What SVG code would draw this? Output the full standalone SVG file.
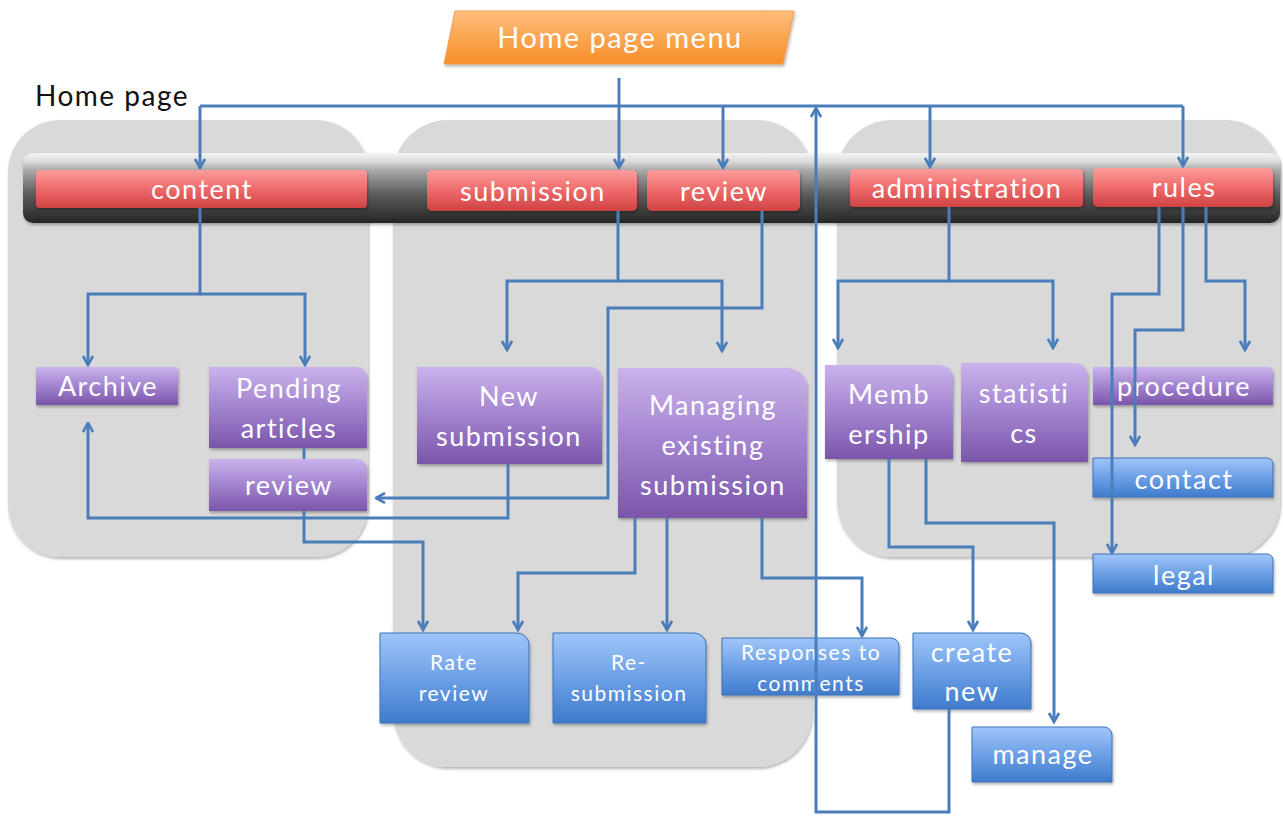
<svg xmlns="http://www.w3.org/2000/svg" width="1283" height="816" viewBox="0 0 1283 816">
<defs>
<linearGradient id="gRed" x1="0" y1="0" x2="0" y2="1"><stop offset="0" stop-color="#fd9c9c"/><stop offset="0.5" stop-color="#ee6a6a"/><stop offset="1" stop-color="#cf4242"/></linearGradient>
<linearGradient id="gPur" x1="0" y1="0" x2="0" y2="1"><stop offset="0" stop-color="#cbb2ec"/><stop offset="0.5" stop-color="#a283cf"/><stop offset="1" stop-color="#7b55aa"/></linearGradient>
<linearGradient id="gBlue" x1="0" y1="0" x2="0" y2="1"><stop offset="0" stop-color="#a0c6fa"/><stop offset="0.5" stop-color="#6da0e6"/><stop offset="1" stop-color="#3e7bcc"/></linearGradient>
<linearGradient id="gOr" x1="0" y1="0" x2="0" y2="1"><stop offset="0" stop-color="#ffbe7c"/><stop offset="1" stop-color="#f78e28"/></linearGradient>
<linearGradient id="gBar" x1="0" y1="0" x2="0" y2="1"><stop offset="0" stop-color="#f4f4f4"/><stop offset="0.12" stop-color="#dcdcdc"/><stop offset="0.25" stop-color="#a8a8a8"/><stop offset="0.6" stop-color="#5a5a5a"/><stop offset="1" stop-color="#262626"/></linearGradient>
<filter id="sh" x="-10%" y="-10%" width="120%" height="130%"><feDropShadow dx="1" dy="2" stdDeviation="1.5" flood-color="#000" flood-opacity="0.3"/></filter>
<marker id="arr" viewBox="0 0 12 12" refX="10.5" refY="6" markerWidth="12" markerHeight="12" markerUnits="userSpaceOnUse" orient="auto"><path d="M1.5,1 L10.5,6 L1.5,11" fill="none" stroke="#4a7ebb" stroke-width="2.6"/></marker>
<style>
.panel{fill:#d9d9d9;filter:url(#sh)}
.red{fill:url(#gRed);filter:url(#sh)}
.pur{fill:url(#gPur);filter:url(#sh)}
.blue{fill:url(#gBlue);stroke:#3c72b8;stroke-width:1;filter:url(#sh)}
.t{font-family:Lato,"Liberation Sans",sans-serif;fill:#fff;text-anchor:middle;letter-spacing:1.5px}
.t24{font-size:27px}
.t19{font-size:21px}
.c path{fill:none;stroke:#4a7ebb;stroke-width:3}
.a{marker-end:url(#arr)}
</style>
</defs>
<rect width="1283" height="816" fill="#fff"/>
<g id="panels">
<rect class="panel" x="8" y="120" width="360" height="437" rx="52"/>
<rect class="panel" x="393" y="120" width="419" height="647" rx="55"/>
<rect class="panel" x="837" y="120" width="443" height="437" rx="55"/>
</g>
<text x="35" y="106" font-family="Lato,'Liberation Sans',sans-serif" font-size="28" letter-spacing="1.5" fill="#111">Home page</text>
<g id="menu-bar"><rect x="23" y="153" width="1257" height="70" rx="10" fill="url(#gBar)" filter="url(#sh)"/></g>
<g id="home-page-menu"><polygon points="455,11 794,11 783,64 444,64" fill="url(#gOr)" stroke="#f0a050" stroke-width="1" filter="url(#sh)"/><text class="t" x="620" y="48" font-size="29" letter-spacing="1">Home page menu</text></g>
<g id="content"><rect class="red" x="36" y="170" width="331" height="38" rx="4"/><text class="t t24" x="202" y="199">content</text></g>
<g id="submission"><rect class="red" x="427" y="170" width="210" height="41" rx="5"/><text class="t t24" x="533" y="201">submission</text></g>
<g id="review"><rect class="red" x="647" y="170" width="153" height="41" rx="5"/><text class="t t24" x="724" y="201">review</text></g>
<g id="administration"><rect class="red" x="850" y="169" width="233" height="38" rx="4"/><text class="t t24" x="967" y="198">administration</text></g>
<g id="rules"><rect class="red" x="1093" y="168" width="180" height="39" rx="5"/><text class="t t24" x="1184" y="197">rules</text></g>
<g id="archive"><path class="pur" d="M36,367 H175 A3,3 0 0 1 178,370 V405 H36 Z"/><text class="t t24" x="108" y="396">Archive</text></g>
<g id="pending-articles"><path class="pur" d="M209,367 H357 A10,10 0 0 1 367,377 V448 H209 Z"/><text class="t t24" x="289" y="398">Pending</text><text class="t t24" x="289" y="438">articles</text></g>
<g id="review-pending"><path class="pur" d="M209,459 H357 A10,10 0 0 1 367,469 V511 H209 Z"/><text class="t t24" x="289" y="495">review</text></g>
<g id="new-submission"><path class="pur" d="M417,367 H590 A12,12 0 0 1 602,379 V464 H417 Z"/><text class="t t24" x="509" y="406">New</text><text class="t t24" x="509" y="446">submission</text></g>
<g id="managing"><path class="pur" d="M618,368 H787 A20,20 0 0 1 807,388 V518 H618 Z"/><text class="t t24" x="713" y="415">Managing</text><text class="t t24" x="713" y="455">existing</text><text class="t t24" x="713" y="495">submission</text></g>
<g id="membership"><path class="pur" d="M825,365 H939 A14,14 0 0 1 953,379 V459 H825 Z"/><text class="t t24" x="889" y="404">Memb</text><text class="t t24" x="889" y="444">ership</text></g>
<g id="statistics"><path class="pur" d="M961,363 H1074 A14,14 0 0 1 1088,377 V462 H961 Z"/><text class="t t24" x="1024" y="403">statisti</text><text class="t t24" x="1024" y="443">cs</text></g>
<g id="procedure"><path class="pur" d="M1093,367 H1268 A5,5 0 0 1 1273,372 V405 H1093 Z"/><text class="t t24" x="1184" y="396">procedure</text></g>
<g id="contact"><path class="blue" d="M1093,458 H1267 A6,6 0 0 1 1273,464 V497 H1093 Z"/><text class="t t24" x="1184" y="489">contact</text></g>
<g id="legal"><path class="blue" d="M1093,554 H1267 A6,6 0 0 1 1273,560 V593 H1093 Z"/><text class="t t24" x="1184" y="585">legal</text></g>
<g id="rate-review"><path class="blue" d="M380,633 H517 A12,12 0 0 1 529,645 V723 H380 Z"/><text class="t t19" x="454" y="670">Rate</text><text class="t t19" x="454" y="701">review</text></g>
<g id="re-submission"><path class="blue" d="M553,633 H694 A12,12 0 0 1 706,645 V723 H553 Z"/><text class="t t19" x="629" y="670">Re-</text><text class="t t19" x="629" y="701">submission</text></g>
<g id="responses"><path class="blue" d="M722,638 H891 A8,8 0 0 1 899,646 V695 H722 Z"/><text class="t t19" x="811" y="660">Responses to</text><text class="t t19" x="811" y="691">comments</text></g>
<g id="create-new"><path class="blue" d="M913,633 H1021 A10,10 0 0 1 1031,643 V709 H913 Z"/><text class="t t24" x="972" y="662">create</text><text class="t t24" x="972" y="701">new</text></g>
<g id="manage"><path class="blue" d="M972,727 H1104 A8,8 0 0 1 1112,735 V782 H972 Z"/><text class="t t24" x="1043" y="764">manage</text></g>
<g id="connectors" class="c">
<path class="a" d="M619,78 V168"/>
<path d="M200,106 H1183"/>
<path class="a" d="M200,106 V168"/>
<path class="a" d="M723,106 V168"/>
<path class="a" d="M930,106 V167"/>
<path class="a" d="M1183,106 V166"/>
<path class="a" d="M949,709 V812 H816 V108"/>
<path class="a" d="M200,208 V294 H88 V365"/>
<path class="a" d="M200,294 H305 V365"/>
<path class="a" d="M618,211 V281 H507 V350"/>
<path class="a" d="M618,281 H722 V351"/>
<path class="a" d="M762,211 V308 H608 V498 H376"/>
<path class="a" d="M508,464 V518 H88 V423"/>
<path d="M304,448 V459"/>
<path class="a" d="M304,511 V542 H423 V630"/>
<path class="a" d="M635,518 V573 H518 V630"/>
<path class="a" d="M667,518 V630"/>
<path class="a" d="M762,518 V578 H862 V636"/>
<path class="a" d="M949,207 V281 H838 V348"/>
<path class="a" d="M949,281 H1053 V348"/>
<path class="a" d="M1159,207 V294 H1112 V553"/>
<path class="a" d="M1183,207 V330 H1135 V445"/>
<path class="a" d="M1206,207 V281 H1245 V350"/>
<path class="a" d="M889,459 V547 H973 V630"/>
<path class="a" d="M926,459 V523 H1054 V722"/>
</g>
</svg>
